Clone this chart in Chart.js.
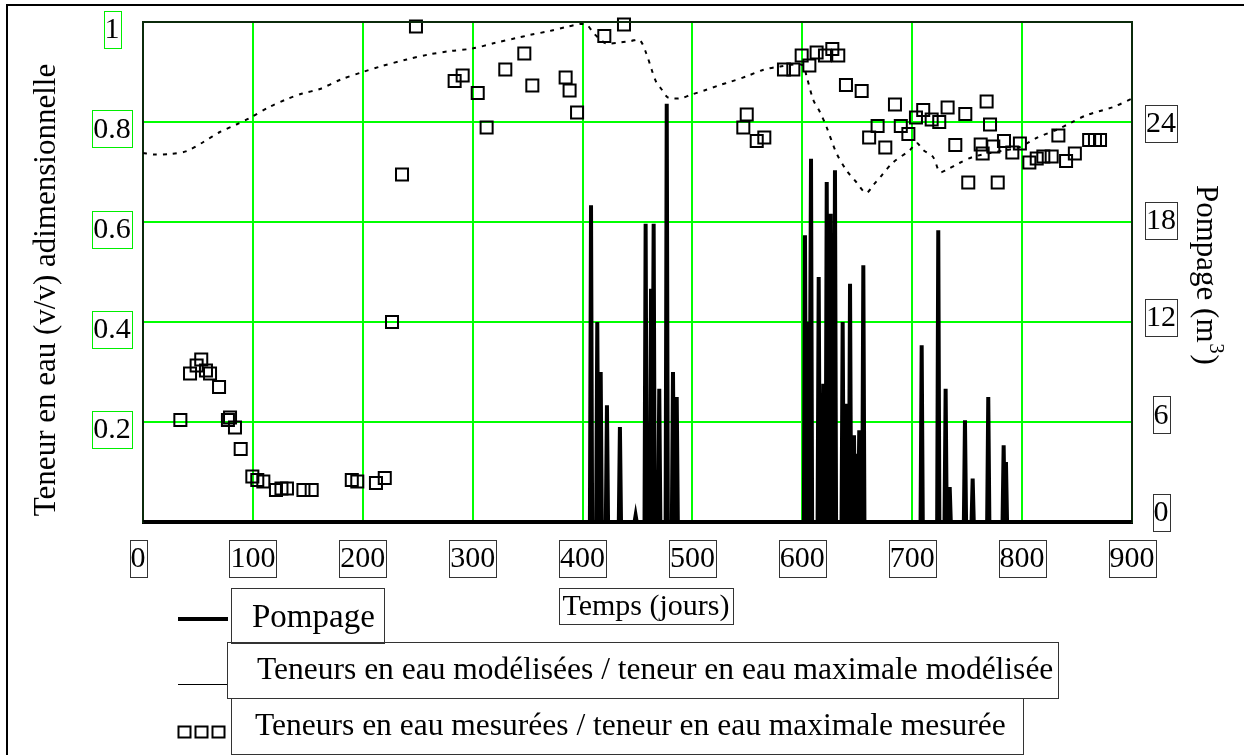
<!DOCTYPE html>
<html>
<head>
<meta charset="utf-8">
<script src="https://cdn.jsdelivr.net/npm/chart.js@4"></script>
<style>
  html, body { margin: 0; padding: 0; background: #fff; }
  canvas { display: block; }
</style>
</head>
<body>
<canvas id="chart" width="1244" height="755"></canvas>
<script>
// tick labels
const xTicks = [0, 100, 200, 300, 400, 500, 600, 700, 800, 900];
const leftTicks = [0.2, 0.4, 0.6, 0.8, 1];
const leftTickLabels = ["0.2", "0.4", "0.6", "0.8", "1"];
const rightTicks = [0, 6, 12, 18, 24];

// pompage (m3), one peak per pumping event
const pompageJours = [407.7, 413.4, 416.5, 422.2, 434.0, 448.3, 457.4, 462.3, 464.7, 469.8, 476.6, 482.3, 485.7,
  602.4, 605.4, 607.9, 614.9, 619.1, 622.2, 625.8, 629.7, 636.7, 640.4, 643.4, 647.0, 649.5, 651.8, 655.5,
  708.6, 723.7, 730.4, 734.1, 748.0, 755.0, 769.2, 783.2, 785.3];
const pompageM3 = [19.0, 12.0, 9.0, 7.0, 5.7, 0.4, 17.9, 14.0, 17.9, 8.0, 25.1, 9.0, 7.5,
  17.2, 12.0, 21.8, 14.7, 8.3, 20.4, 18.5, 21.1, 12.0, 7.1, 14.3, 5.2, 4.1, 5.5, 15.4,
  10.6, 17.5, 8.0, 2.1, 6.1, 2.6, 7.5, 4.6, 3.6];

// teneur modelisee / max modelisee
const modeleJours = [0, 10, 25, 40, 55, 70, 85, 97, 115, 130, 145, 161, 180, 200, 216, 240, 260, 280, 300, 320,
  340, 352, 370, 385, 398, 404, 410, 416, 422, 434, 444, 452, 458, 463, 467, 472, 477, 482, 490, 498,
  512, 525, 534, 550, 564, 580, 600, 604, 610, 616, 622, 631, 640, 649, 658, 665, 671, 682, 698, 704,
  710, 719, 725, 731, 743, 755, 771, 786, 798, 813, 831, 844, 859, 883, 900];
const modeleTeneur = [0.738, 0.735, 0.736, 0.742, 0.76, 0.78, 0.795, 0.808, 0.83, 0.845, 0.857, 0.866, 0.885, 0.9, 0.911, 0.925, 0.935, 0.942, 0.947, 0.958,
  0.968, 0.974, 0.982, 0.99, 0.996, 0.994, 0.978, 0.965, 0.957, 0.959, 0.962, 0.964, 0.937, 0.904, 0.88, 0.865, 0.85, 0.847, 0.848, 0.854,
  0.864, 0.874, 0.88, 0.892, 0.904, 0.911, 0.914, 0.89, 0.844, 0.82, 0.79, 0.738, 0.704, 0.68, 0.658, 0.675, 0.69, 0.718, 0.744, 0.758,
  0.744, 0.73, 0.70, 0.704, 0.718, 0.73, 0.738, 0.744, 0.75, 0.768, 0.784, 0.798, 0.814, 0.83, 0.847];

// teneur mesuree / max mesuree
const mesureJours = [34, 42.8, 48.8, 53, 57.3, 61, 69.2, 77.3, 79.2, 83.7, 88.9, 99.5, 104, 109.5, 121, 126, 131, 146, 153.5,
  190, 195, 212, 220, 226.6, 235.7, 248.4, 283.6, 290.9, 304.6, 312.7, 329.7, 347, 354.3, 384.6, 388.2, 395, 419.8, 437.7,
  546.3, 549.4, 558.5, 565.4, 583.3, 591.8, 599.4, 606.4, 613, 620.6, 627.3, 632.7, 639.7, 654, 660.8, 668.5, 675.5,
  684.3, 689.6, 696.5, 703.4, 710, 717.7, 724.6, 732.2, 739.2, 748.3, 751, 762.3, 764.1, 767.7, 770.8, 773.8, 777.8,
  783.5, 791.1, 798, 806.6, 813.3, 819.3, 826.9, 833, 840, 848, 861, 866.3, 870.9];
const mesureTeneur = [0.204, 0.297, 0.313, 0.325, 0.303, 0.297, 0.27, 0.204, 0.209, 0.189, 0.146, 0.091, 0.084, 0.081, 0.064, 0.067, 0.067, 0.064, 0.064,
  0.084, 0.081, 0.078, 0.088, 0.4, 0.695, 0.991, 0.882, 0.893, 0.858, 0.789, 0.905, 0.937, 0.873, 0.889, 0.863, 0.819, 0.972, 0.995,
  0.789, 0.815, 0.762, 0.769, 0.905, 0.905, 0.933, 0.913, 0.939, 0.933, 0.946, 0.933, 0.874, 0.862, 0.769, 0.792, 0.749,
  0.835, 0.792, 0.776, 0.809, 0.824, 0.805, 0.80, 0.829, 0.754, 0.816, 0.679, 0.755, 0.737, 0.841, 0.795, 0.751, 0.679,
  0.762, 0.739, 0.757, 0.719, 0.727, 0.731, 0.731, 0.773, 0.722, 0.737, 0.764, 0.764, 0.764];

const FONT = "'Liberation Serif', 'Times New Roman', serif";

// pumping is zero between the events
function pompagePoints() {
  const pts = [{ x: 0, y: 0 }];
  pompageJours.forEach((d, i) => {
    pts.push({ x: d - 1, y: 0 });
    pts.push({ x: d, y: pompageM3[i] });
    pts.push({ x: d + 1, y: 0 });
  });
  pts.push({ x: 900, y: 0 });
  return pts;
}

function boxText(ctx, text, cx, cy, color) {
  const w = Math.round(ctx.measureText(text).width + 2);
  const h = 37;
  ctx.strokeStyle = color;
  ctx.lineWidth = 1;
  ctx.strokeRect(Math.round(cx - w / 2) + 0.5, Math.round(cy - h / 2) + 0.5, w, h);
  ctx.fillStyle = "#000";
  ctx.fillText(text, cx, cy + 1);
}

const decor = {
  id: "decor",
  afterDraw(chart) {
    const ctx = chart.ctx;
    const a = chart.chartArea;
    const sx = chart.scales.x, sy = chart.scales.y, sy2 = chart.scales.y2;
    ctx.save();

    // outer frame (top and left only)
    ctx.strokeStyle = "#000";
    ctx.lineWidth = 2;
    ctx.beginPath();
    ctx.moveTo(7, 755);
    ctx.lineTo(7, 5);
    ctx.lineTo(1244, 5);
    ctx.stroke();

    // plot top edge
    ctx.strokeStyle = "#0b2a0b";
    ctx.lineWidth = 2;
    ctx.beginPath();
    ctx.moveTo(a.left, a.top);
    ctx.lineTo(a.right, a.top);
    ctx.stroke();

    ctx.font = "30px " + FONT;
    ctx.textAlign = "center";
    ctx.textBaseline = "middle";

    // left ticks, green boxes
    leftTicks.forEach((v, i) => {
      boxText(ctx, leftTickLabels[i], 112, sy.getPixelForValue(v) + 7, "#00ee00");
    });
    // right ticks
    rightTicks.forEach(v => {
      boxText(ctx, String(v), 1161, sy2.getPixelForValue(v) - 10 + v * 0.46, "#333");
    });
    // x ticks
    xTicks.forEach(v => {
      boxText(ctx, String(v), sx.getPixelForValue(v) - (v === 0 ? 5 : 0), 558, "#333");
    });

    // axis titles
    ctx.font = "31px " + FONT;
    ctx.textBaseline = "alphabetic";
    ctx.save();
    ctx.translate(55, 290);
    ctx.rotate(-Math.PI / 2);
    ctx.fillText("Teneur en eau (v/v) adimensionnelle", 0, 0);
    ctx.restore();

    ctx.save();
    ctx.translate(1197, 185);
    ctx.rotate(Math.PI / 2);
    ctx.textAlign = "left";
    const t1 = "Pompage (m";
    ctx.fillText(t1, 0, 0);
    const w1 = ctx.measureText(t1).width;
    ctx.font = "20px " + FONT;
    ctx.fillText("3", w1 + 1, -13);
    const w2 = ctx.measureText("3").width;
    ctx.font = "31px " + FONT;
    ctx.fillText(")", w1 + w2 + 2, 0);
    ctx.restore();

    // x title
    ctx.font = "30px " + FONT;
    ctx.textBaseline = "middle";
    ctx.strokeStyle = "#333";
    ctx.lineWidth = 1;
    ctx.strokeRect(559.5, 588.5, 174, 36);
    ctx.fillText("Temps (jours)", 646, 607);

    // legend
    ctx.textAlign = "left";
    ctx.strokeStyle = "#000";
    ctx.lineWidth = 4;
    ctx.beginPath();
    ctx.moveTo(178, 619);
    ctx.lineTo(228, 619);
    ctx.stroke();
    ctx.strokeStyle = "#333";
    ctx.lineWidth = 1;
    ctx.strokeRect(231.5, 588.5, 153, 55);
    ctx.font = "33px " + FONT;
    ctx.fillText("Pompage", 252, 618);

    ctx.font = "31.5px " + FONT;
    ctx.strokeStyle = "#000";
    ctx.lineWidth = 1;
    ctx.beginPath();
    ctx.moveTo(178, 684.5);
    ctx.lineTo(227, 684.5);
    ctx.stroke();
    ctx.strokeStyle = "#333";
    ctx.strokeRect(227.5, 642.5, 831, 56);
    ctx.fillText("Teneurs en eau modélisées / teneur en eau maximale modélisée", 257, 671);

    ctx.strokeStyle = "#000";
    ctx.lineWidth = 2;
    [178, 195, 212].forEach(x0 => ctx.strokeRect(x0 + 0.5, 726.5, 12, 11));
    ctx.strokeStyle = "#333";
    ctx.lineWidth = 1;
    ctx.strokeRect(231.5, 698.5, 792, 56);
    ctx.fillText("Teneurs en eau mesurées / teneur en eau maximale mesurée", 255, 727);

    ctx.restore();
  }
};

new Chart(document.getElementById("chart"), {
  type: "line",
  data: {
    datasets: [
      {
        label: "Pompage",
        data: pompagePoints(),
        yAxisID: "y2",
        borderColor: "#000",
        borderWidth: 4,
        pointRadius: 0,
        tension: 0
      },
      {
        label: "Teneurs en eau modélisées / teneur en eau maximale modélisée",
        data: modeleJours.map((d, i) => ({ x: d, y: modeleTeneur[i] })),
        yAxisID: "y",
        borderColor: "#000",
        borderWidth: 2,
        borderDash: [4, 6],
        pointRadius: 0,
        tension: 0.3
      },
      {
        label: "Teneurs en eau mesurées / teneur en eau maximale mesurée",
        data: mesureJours.map((d, i) => ({ x: d, y: mesureTeneur[i] })),
        yAxisID: "y",
        showLine: false,
        pointStyle: "rect",
        pointRadius: 8.5,
        pointBorderWidth: 2,
        borderColor: "#000",
        backgroundColor: "rgba(0,0,0,0)",
        clip: false
      }
    ]
  },
  options: {
    responsive: false,
    animation: false,
    layout: { padding: { top: 22, left: 0, right: 0, bottom: 0 } },
    plugins: { legend: { display: false }, tooltip: { enabled: false } },
    scales: {
      x: {
        type: "linear",
        min: 0,
        max: 900,
        ticks: { display: false, stepSize: 100 },
        grid: { color: "#00ff00", lineWidth: 2, drawTicks: false },
        border: { color: "#000", width: 3 },
        afterFit: s => { s.height = 233; }
      },
      y: {
        position: "left",
        min: 0,
        max: 1,
        ticks: { display: false, stepSize: 0.2 },
        grid: { color: "#00ff00", lineWidth: 2, drawTicks: false },
        border: { color: "#0b2a0b", width: 2 },
        afterFit: s => { s.width = 143; }
      },
      y2: {
        position: "right",
        min: 0,
        max: 30,
        ticks: { display: false, stepSize: 6 },
        grid: { display: false, drawTicks: false },
        border: { color: "#0b2a0b", width: 2 },
        afterFit: s => { s.width = 112; }
      }
    }
  },
  plugins: [decor]
});
</script>
</body>
</html>
